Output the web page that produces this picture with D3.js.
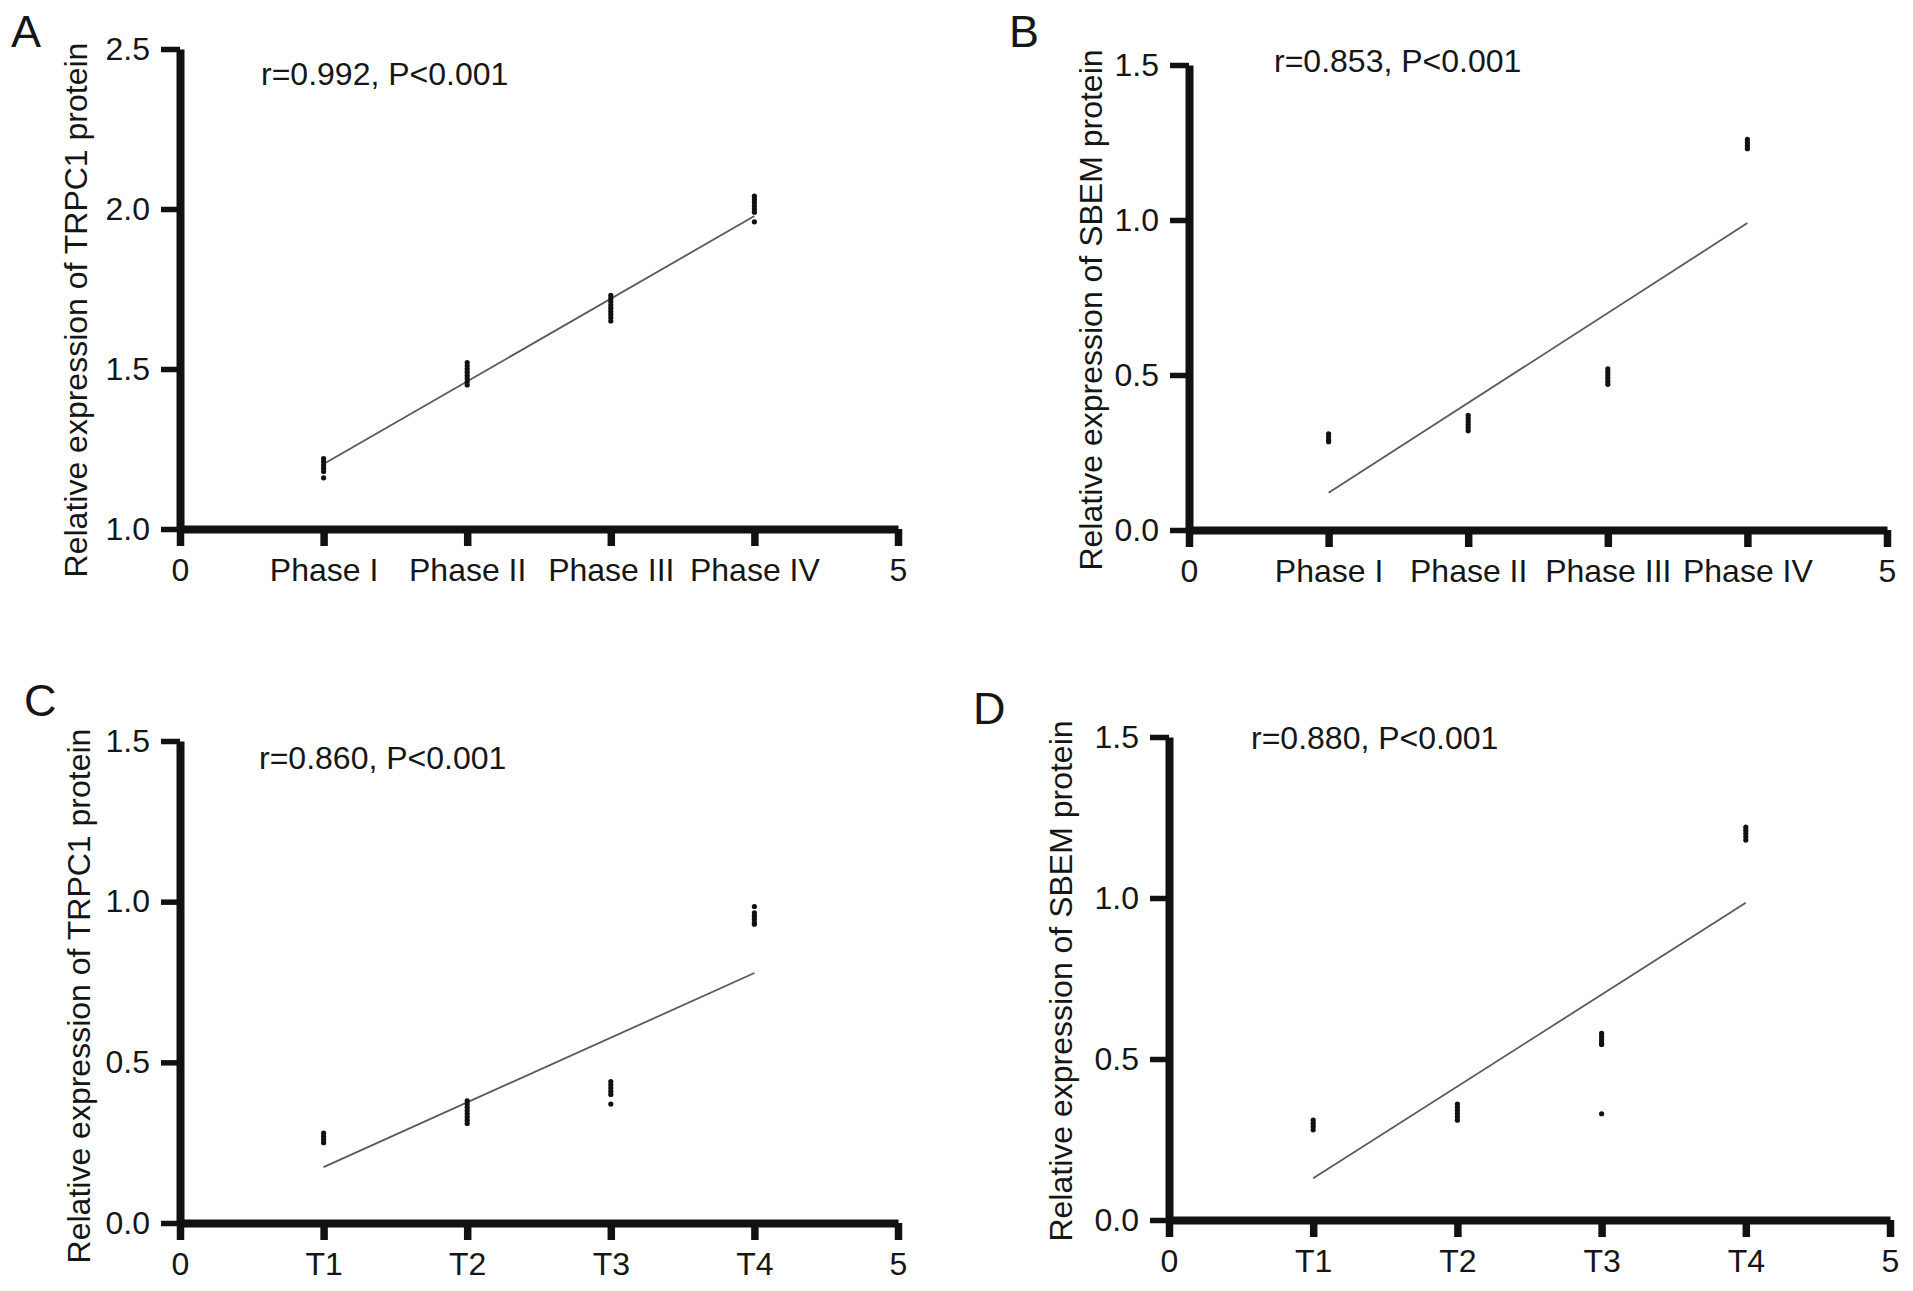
<!DOCTYPE html>
<html>
<head>
<meta charset="utf-8">
<script src="https://cdn.jsdelivr.net/npm/d3@7"></script>
<style>
    body { margin: 0; background: #fff; }
    svg text { font-family: "Liberation Sans", Arial, Helvetica, sans-serif; fill: #161616; }
    .axis path, .axis line { stroke: #111; }
    .axis text { font-size: 32px; }
    .x-axis line { stroke-width: 7.5; }
    .y-axis line { stroke-width: 5.5; }
    .axis path { stroke-width: 8; }
</style>
</head>
<body>
<svg id="fig"></svg>
<script>
// categories
const phaseLabels = ['Phase I', 'Phase II', 'Phase III', 'Phase IV'];
const stageLabels = ['T1', 'T2', 'T3', 'T4'];
const xTickValues = [0, 1, 2, 3, 4, 5];

// y tick labels
const yTicksA = [1.0, 1.5, 2.0, 2.5];
const yTicksBCD = [0.0, 0.5, 1.0, 1.5];

// individual samples, one list per category (x = 1..4)
const pointsA = [
    [1.22, 1.21, 1.20, 1.19, 1.18, 1.16],
    [1.52, 1.51, 1.50, 1.49, 1.48, 1.47, 1.46, 1.45],
    [1.73, 1.72, 1.71, 1.70, 1.69, 1.68, 1.67, 1.66, 1.65],
    [2.04, 2.03, 2.02, 2.01, 2.00, 1.99, 1.96]
];
const pointsB = [
    [0.31, 0.30, 0.29, 0.285],
    [0.37, 0.36, 0.35, 0.34, 0.33, 0.32],
    [0.52, 0.51, 0.50, 0.49, 0.48, 0.47],
    [1.26, 1.25, 1.24, 1.23]
];
const pointsC = [
    [0.28, 0.27, 0.26, 0.25],
    [0.38, 0.37, 0.36, 0.35, 0.34, 0.33, 0.32, 0.31],
    [0.44, 0.43, 0.42, 0.41, 0.40, 0.37],
    [0.985, 0.965, 0.955, 0.945, 0.935, 0.93]
];
const pointsD = [
    [0.31, 0.30, 0.29, 0.28],
    [0.36, 0.35, 0.34, 0.33, 0.32, 0.31],
    [0.58, 0.57, 0.56, 0.55, 0.545, 0.33],
    [1.22, 1.21, 1.20, 1.19, 1.18]
];

// linear fit, value at x = 1 and x = 4
const fitA = [1.203, 1.978];
const fitB = [0.12, 0.99];
const fitC = [0.174, 0.778];
const fitD = [0.13, 0.985];

const statA = 'r=0.992, P<0.001';
const statB = 'r=0.853, P<0.001';
const statC = 'r=0.860, P<0.001';
const statD = 'r=0.880, P<0.001';

const titleTRPC1 = 'Relative expression of TRPC1 protein';
const titleSBEM = 'Relative expression of SBEM protein';

class Scatterpanel {
    constructor(_config, _data) {
        this.config = {
            parent: _config.parent,
            letter: _config.letter,
            left: _config.left,
            right: _config.right,
            top: _config.top,
            bottom: _config.bottom,
            letterPos: _config.letterPos,
            statPos: _config.statPos,
            titlePos: _config.titlePos
        };
        this.data = _data;
        this.initVis();
    }

    initVis() {
        let vis = this;

        vis.xScale = d3.scaleLinear()
            .domain([0, 5])
            .range([vis.config.left, vis.config.right]);

        vis.yScale = d3.scaleLinear()
            .domain(d3.extent(vis.data.yTicks))
            .range([vis.config.bottom, vis.config.top]);

        vis.xAxis = d3.axisBottom(vis.xScale)
            .tickValues(xTickValues)
            .tickFormat(d => (d === 0 || d === 5) ? String(d) : vis.data.categories[d - 1])
            .tickSize(17)
            .tickSizeOuter(0)
            .tickPadding(12);

        vis.yAxis = d3.axisLeft(vis.yScale)
            .tickValues(vis.data.yTicks)
            .tickFormat(d3.format('.1f'))
            .tickSize(19)
            .tickSizeOuter(0)
            .tickPadding(11);

        vis.g = vis.config.parent.append('g').attr('class', 'panel');

        vis.xAxisG = vis.g.append('g')
            .attr('class', 'axis x-axis')
            .attr('transform', `translate(0,${vis.config.bottom})`);

        vis.yAxisG = vis.g.append('g')
            .attr('class', 'axis y-axis')
            .attr('transform', `translate(${vis.config.left},0)`);

        // panel letter
        vis.g.append('text')
            .attr('x', vis.config.letterPos[0])
            .attr('y', vis.config.letterPos[1])
            .attr('font-size', '45px')
            .text(vis.config.letter);

        // correlation text
        vis.g.append('text')
            .attr('x', vis.config.statPos[0])
            .attr('y', vis.config.statPos[1])
            .attr('font-size', '32px')
            .text(vis.data.stat);

        // y axis title
        vis.g.append('text')
            .attr('transform', `translate(${vis.config.titlePos[0]},${vis.config.titlePos[1]}) rotate(-90)`)
            .attr('text-anchor', 'middle')
            .attr('font-size', '32px')
            .text(vis.data.title);

        vis.updateVis();
    }

    updateVis() {
        let vis = this;

        vis.xAxisG.call(vis.xAxis);
        vis.yAxisG.call(vis.yAxis);

        // regression line
        vis.g.append('line')
            .attr('class', 'fit')
            .attr('x1', vis.xScale(1))
            .attr('y1', vis.yScale(vis.data.fit[0]))
            .attr('x2', vis.xScale(4))
            .attr('y2', vis.yScale(vis.data.fit[1]))
            .attr('stroke', '#5a5a5a')
            .attr('stroke-width', 1.8);

        const pts = vis.data.points.flatMap((vals, i) => vals.map(v => ({ x: i + 1, y: v })));

        vis.g.selectAll('.dot')
            .data(pts)
            .enter()
            .append('circle')
            .attr('class', 'dot')
            .attr('cx', d => vis.xScale(d.x))
            .attr('cy', d => vis.yScale(d.y))
            .attr('r', 2.6)
            .attr('fill', '#111');
    }
}

const svg = d3.select('#fig')
    .attr('width', 1913)
    .attr('height', 1291);

new Scatterpanel({
    parent: svg, letter: 'A',
    left: 180, right: 898, top: 49, bottom: 529,
    letterPos: [11, 47], statPos: [261, 85], titlePos: [87, 310]
}, { categories: phaseLabels, yTicks: yTicksA, points: pointsA, fit: fitA, stat: statA, title: titleTRPC1 });

new Scatterpanel({
    parent: svg, letter: 'B',
    left: 1189, right: 1887, top: 65, bottom: 530,
    letterPos: [1009, 47], statPos: [1274, 72], titlePos: [1102, 310]
}, { categories: phaseLabels, yTicks: yTicksBCD, points: pointsB, fit: fitB, stat: statB, title: titleSBEM });

new Scatterpanel({
    parent: svg, letter: 'C',
    left: 180, right: 898, top: 741, bottom: 1223,
    letterPos: [24, 716], statPos: [259, 769], titlePos: [90, 996]
}, { categories: stageLabels, yTicks: yTicksBCD, points: pointsC, fit: fitC, stat: statC, title: titleTRPC1 });

new Scatterpanel({
    parent: svg, letter: 'D',
    left: 1169, right: 1890, top: 737, bottom: 1220,
    letterPos: [973, 724], statPos: [1251, 749], titlePos: [1072, 981]
}, { categories: stageLabels, yTicks: yTicksBCD, points: pointsD, fit: fitD, stat: statD, title: titleSBEM });
</script>
</body>
</html>
